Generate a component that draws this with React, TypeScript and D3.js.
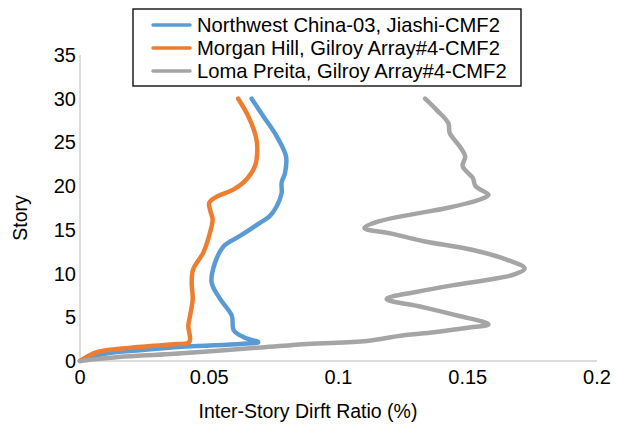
import React from "react";
import * as d3 from "d3";

const seriesNames = [
  "Northwest China-03, Jiashi-CMF2",
  "Morgan Hill, Gilroy Array#4-CMF2",
  "Loma Preita, Gilroy Array#4-CMF2",
];
const seriesColors = ["#5B9BD5", "#ED7D31", "#A5A5A5"];

const xTicks = [0, 0.05, 0.1, 0.15, 0.2];
const xTickLabels = ["0", "0.05", "0.1", "0.15", "0.2"];
const yTicks = [0, 5, 10, 15, 20, 25, 30, 35];

// Northwest China-03 (blue)
const blueDrift = [0, 0.009, 0.022, 0.041, 0.062, 0.069, 0.0635, 0.0595, 0.0587, 0.0542, 0.0509, 0.0522, 0.0555, 0.0619, 0.0696, 0.0735, 0.0761, 0.078, 0.078, 0.0793, 0.0797, 0.0761, 0.0709, 0.0664];
const blueStory = [0, 0.8, 1.2, 1.65, 1.95, 2.15, 2.7, 3.5, 5.2, 7.1, 9.0, 11.2, 13.1, 14.3, 15.8, 16.6, 17.7, 19.2, 20.4, 21.5, 23.4, 25.7, 28.0, 30.0];

// Morgan Hill (orange)
const orangeDrift = [0, 0.0065, 0.0155, 0.0348, 0.042, 0.0426, 0.0419, 0.0426, 0.0436, 0.0432, 0.0438, 0.0477, 0.0503, 0.0513, 0.0503, 0.050, 0.0529, 0.0593, 0.0645, 0.0677, 0.0686, 0.068, 0.0651, 0.0612];
const orangeStory = [0, 1.0, 1.4, 1.9, 2.1, 2.5, 4.0, 5.2, 7.1, 9.0, 10.5, 12.4, 14.7, 16.2, 17.3, 18.1, 18.8, 19.6, 20.8, 22.3, 24.2, 25.7, 28.0, 30.0];

// Loma Prieta (gray)
const grayDrift = [0, 0.015, 0.035, 0.07, 0.088, 0.111, 0.124, 0.137, 0.15, 0.158, 0.146, 0.132, 0.1186, 0.130, 0.145, 0.158, 0.168, 0.172, 0.165, 0.152, 0.133, 0.12, 0.110, 0.116, 0.129, 0.142, 0.155, 0.158, 0.153, 0.152, 0.148, 0.149, 0.147, 0.143, 0.1425, 0.138, 0.1335];
const grayStory = [0, 0.45, 0.8, 1.55, 1.95, 2.3, 2.9, 3.3, 3.8, 4.2, 5.2, 6.2, 7.1, 7.9, 8.7, 9.3, 9.9, 10.6, 11.6, 12.7, 13.7, 14.6, 15.2, 16.0, 16.8, 17.5, 18.5, 19.0, 20.0, 20.9, 22.3, 23.4, 24.5, 26.1, 27.2, 28.7, 30.0];

const W = 617;
const H = 426;
const FONT = "Arial, 'Liberation Sans', sans-serif";

export default function App() {
  const x = d3.scaleLinear().domain([0, 0.2]).range([80, 597]);
  const y = d3.scaleLinear().domain([0, 35]).range([361, 55]);

  const series = [
    { drift: blueDrift, story: blueStory },
    { drift: orangeDrift, story: orangeStory },
    { drift: grayDrift, story: grayStory },
  ];

  const line = d3
    .line<[number, number]>()
    .x((d) => x(d[0]))
    .y((d) => y(d[1]))
    .curve(d3.curveCatmullRom.alpha(0.5));

  return (
    <svg
      width={W}
      height={H}
      style={{ position: "absolute", left: 0, top: 0, background: "#fff" }}
      fontFamily={FONT}
    >
      {/* axes */}
      <line x1={x(0)} x2={x(0)} y1={y(35)} y2={y(0)} stroke="#D0D0D0" strokeWidth={1.5} />
      <line x1={x(0)} x2={x(0.2)} y1={y(0)} y2={y(0)} stroke="#D0D0D0" strokeWidth={1.5} />

      {/* y tick labels */}
      {yTicks.map((t) => (
        <text key={"y" + t} x={76} y={y(t) + 7} textAnchor="end" fontSize={20} fill="#000">
          {t}
        </text>
      ))}
      {/* x tick labels */}
      {xTicks.map((t, i) => (
        <text key={"x" + t} x={x(t)} y={384} textAnchor="middle" fontSize={20} fill="#000">
          {xTickLabels[i]}
        </text>
      ))}

      {/* axis titles */}
      <text x={308} y={418} textAnchor="middle" fontSize={19.5} fill="#000">
        Inter-Story Dirft Ratio (%)
      </text>
      <text
        transform={`translate(27,218) rotate(-90)`}
        textAnchor="middle"
        fontSize={19.5}
        fill="#000"
      >
        Story
      </text>

      {/* series */}
      {series.map((s, i) => (
        <path
          key={"s" + i}
          d={line(s.drift.map((d, j) => [d, s.story[j]] as [number, number])) || ""}
          fill="none"
          stroke={seriesColors[i]}
          strokeWidth={4.5}
          strokeLinejoin="round"
          strokeLinecap="round"
        />
      ))}

      {/* legend */}
      <rect x={133} y={9} width={388} height={77} fill="#fff" stroke="#111" strokeWidth={1.4} />
      {seriesNames.map((n, i) => (
        <g key={"l" + i}>
          <line
            x1={153}
            x2={190}
            y1={25 + i * 23}
            y2={25 + i * 23}
            stroke={seriesColors[i]}
            strokeWidth={3.5}
            strokeLinecap="round"
          />
          <text x={197} y={32 + i * 23} fontSize={20.2} fill="#000">
            {n}
          </text>
        </g>
      ))}
    </svg>
  );
}
